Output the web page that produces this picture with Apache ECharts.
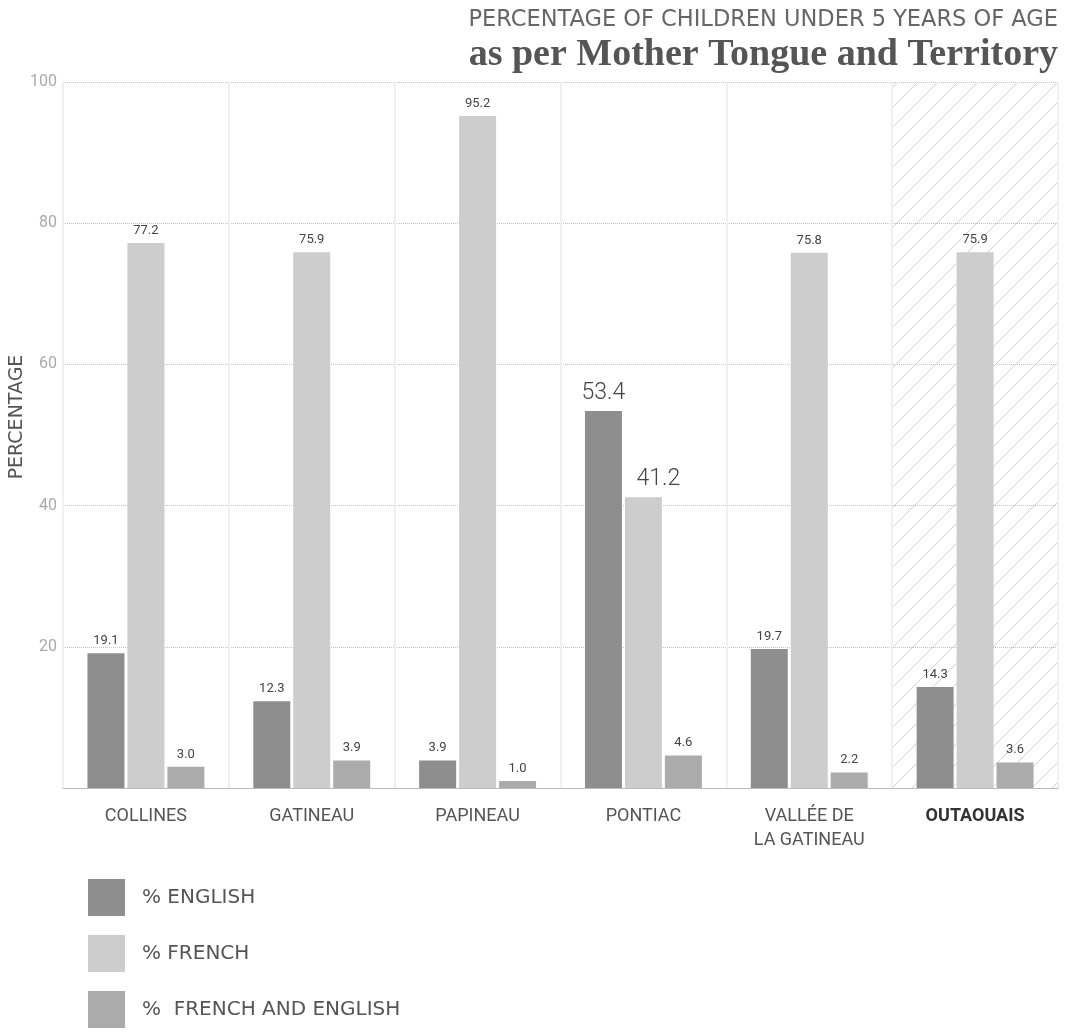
<!DOCTYPE html>
<html><head><meta charset="utf-8">
<script src="https://cdn.jsdelivr.net/npm/echarts@6/dist/echarts.min.js"></script>
<style>html,body{margin:0;padding:0;background:#fff}#c{width:1068px;height:1033px}</style>
</head><body><div id="c"></div>
<script>
const categories = ['COLLINES', 'GATINEAU', 'PAPINEAU', 'PONTIAC', 'VALLÉE DE\nLA GATINEAU', 'OUTAOUAIS'];
const english = [19.1, 12.3, 3.9, 53.4, 19.7, 14.3];
const french = [77.2, 75.9, 95.2, 41.2, 75.8, 75.9];
const frenchEnglish = [3.0, 3.9, 1.0, 4.6, 2.2, 3.6];
const seriesNames = ['% ENGLISH', '% FRENCH', '%  FRENCH AND ENGLISH'];
const yTicks = [0, 20, 40, 60, 80, 100];
const highlightCategory = 'PONTIAC';
const boldCategory = 'OUTAOUAIS';

// hatch pattern
const pc = document.createElement('canvas');
pc.width = 20; pc.height = 20;
const g = pc.getContext('2d');
g.strokeStyle = '#d2d2d2'; g.lineWidth = 1;
g.beginPath(); g.moveTo(0, 20); g.lineTo(20, 0); g.stroke();
g.beginPath(); g.moveTo(-10, 10); g.lineTo(10, -10); g.stroke();
g.beginPath(); g.moveTo(10, 30); g.lineTo(30, 10); g.stroke();
const hatch = {image: pc, repeat: 'repeat'};

const colors = ['#8e8e8e', '#cdcdcd', '#ababab'];
function mk(vals, k) {
  return vals.map((v, i) => (categories[i] === highlightCategory && k < 2)
    ? {value: v, label: {fontSize: 23, fontWeight: 300, color: '#444', offset: [k === 1 ? 15 : 0, 0]}}
    : v);
}
const chart = echarts.init(document.getElementById('c'));
chart.setOption({
  backgroundColor: '#fff',
  animation: false,
  color: colors,
  title: [
    {text: 'PERCENTAGE OF CHILDREN UNDER 5 YEARS OF AGE', right: 5, top: 4,
     textStyle: {fontFamily: 'DejaVu Sans', fontWeight: 'normal', fontSize: 22.5, color: '#666'}},
    {text: 'as per Mother Tongue and Territory', right: 5, top: 31,
     textStyle: {fontFamily: 'Liberation Serif', fontWeight: 'bold', fontSize: 38, color: '#555'}}
  ],
  grid: {left: 63, right: 10, top: 82, bottom: 245, containLabel: false, outerBoundsMode: 'none'},
  legend: {
    orient: 'vertical', left: 88, top: 879, padding: 0, itemWidth: 37, itemHeight: 37, itemGap: 19,
    icon: 'rect', data: seriesNames,
    textStyle: {fontFamily: 'DejaVu Sans', fontSize: 20, color: '#555', padding: [0, 0, 0, 12]}
  },
  xAxis: {
    type: 'category', data: categories,
    axisLine: {lineStyle: {color: '#bbb'}}, axisTick: {show: false},
    splitLine: {show: true, interval: 0, lineStyle: {color: '#f0f0f0', width: 2}},
    splitArea: {show: true, interval: 0, areaStyle: {color: categories.map(c => c === boldCategory ? hatch : 'rgba(0,0,0,0)')}},
    axisLabel: {
      interval: 0, margin: 16, fontFamily: 'Roboto', fontSize: 18, color: '#555', lineHeight: 24,
      formatter: v => v === boldCategory ? '{b|' + v + '}' : v,
      rich: {b: {fontFamily: 'Roboto', fontWeight: 'bold', fontSize: 18, color: '#333'}}
    }
  },
  yAxis: {
    type: 'value', min: 0, max: 100, interval: 20,
    name: 'PERCENTAGE', nameLocation: 'middle', nameGap: 36, nameRotate: 90, nameMoveOverlap: false,
    nameTextStyle: {fontFamily: 'DejaVu Sans', fontSize: 19, color: '#555', padding: [0, 0, 0, 36]},
    axisLine: {show: false}, axisTick: {show: false},
    axisLabel: {fontFamily: 'Roboto', fontSize: 16, color: '#aaa', margin: 6,
      formatter: v => (yTicks.indexOf(v) > 0 ? String(v) : '')},
    splitLine: {lineStyle: {color: '#c4c4c4', type: 'dotted'}}
  },
  series: [english, french, frenchEnglish].map((d, k) => ({
    name: seriesNames[k], type: 'bar', data: mk(d, k), barWidth: 37, barGap: '8%',
    label: {show: true, position: 'top', distance: 6, fontFamily: 'Roboto', fontSize: 13, color: '#444',
      formatter: p => Number(p.value).toFixed(1)}
  }))
});
</script></body></html>
